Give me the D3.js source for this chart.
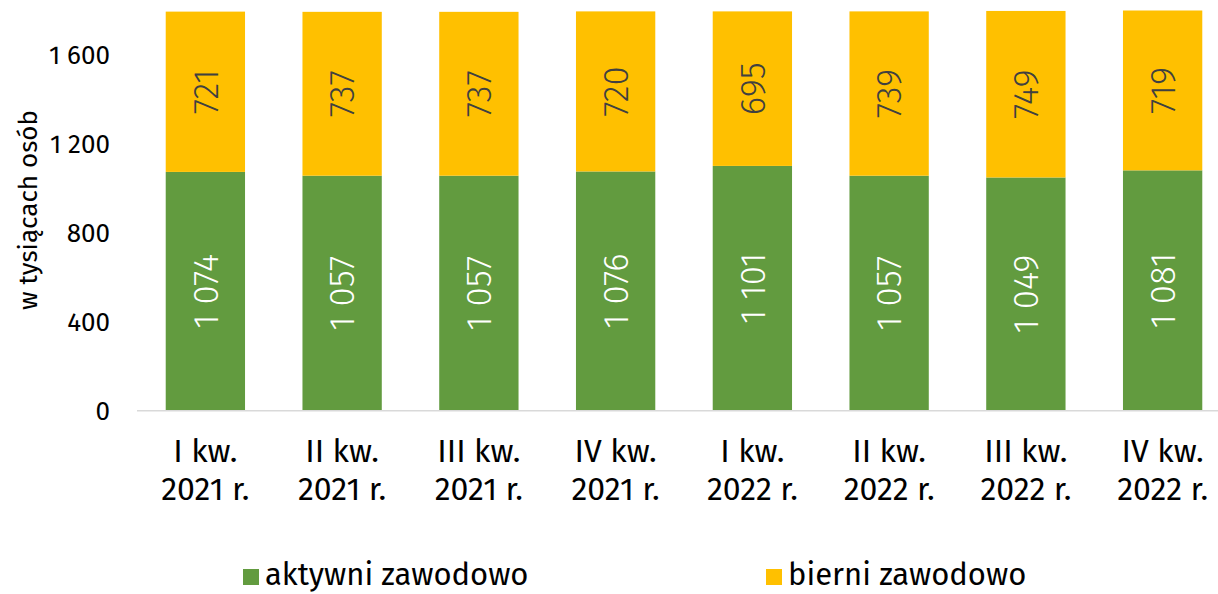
<!DOCTYPE html>
<html>
<head>
<meta charset="utf-8">
<script src="https://cdn.jsdelivr.net/npm/d3@7"></script>
<style>
  body { margin: 0; background: #fff; }
  svg text { font-family: "Fira Sans", "Open Sans", sans-serif; }
</style>
</head>
<body>
<div id="chart"></div>
<script>
(function() {

  let width  = 1218,
      height = 594;

  // data
  let quarters = ["I kw.", "II kw.", "III kw.", "IV kw.", "I kw.", "II kw.", "III kw.", "IV kw."];
  let years    = ["2021 r.", "2021 r.", "2021 r.", "2021 r.", "2022 r.", "2022 r.", "2022 r.", "2022 r."];
  let active   = [1074, 1057, 1057, 1076, 1101, 1057, 1049, 1081];
  let inactive = [721, 737, 737, 720, 695, 739, 749, 719];
  let yTicks   = [0, 400, 800, 1200, 1600];
  let seriesNames = ["aktywni zawodowo", "bierni zawodowo"];

  let colors = ["#629b3f", "#ffc000"];
  let labelColors = ["#ffffff", "#404040"];

  let data = quarters.map((q, i) => ({
    key: i, quarter: q, year: years[i], active: active[i], inactive: inactive[i]
  }));

  let svg = d3.select('#chart')
    .append ("svg")
    .attr   ("width", width)
    .attr   ("height", height);

  let x = d3.scaleBand()
    .domain       (data.map(d => d.key))
    .range        ([137, 1231])
    .paddingInner (0.42)
    .paddingOuter (0.21);

  let y = d3.scaleLinear()
    .domain ([0, 1800])
    .range  ([410.7, 10.5]);

  // thousands separated by a (non-breaking) space, Polish style
  let fmt = v => d3.format(",")(v).replace(/,/g, "\u00a0");

  // stack the two series
  let stack = d3.stack().keys(["active", "inactive"])(data);

  // y axis (labels only)
  let yAxis = svg.append("g")
    .attr("transform", "translate(118,0)")
    .call(d3.axisLeft(y).tickValues(yTicks).tickSize(0).tickPadding(8).tickFormat(v => fmt(v)));
  yAxis.select(".domain").remove();
  yAxis.selectAll("text")
    .style("font-size", "26px")
    .attr("fill", "#000");

  // y title
  svg.append("text")
    .attr("transform", "translate(37,210) rotate(-90)")
    .attr("text-anchor", "middle")
    .style("font-size", "26px")
    .attr("fill", "#000")
    .text("w tysiącach osób");

  // bars
  let layers = svg.selectAll(".layer")
    .data  (stack)
    .enter ().append("g")
    .attr  ("class", "layer")
    .attr  ("fill", (d, i) => colors[i]);

  layers.selectAll("rect")
    .data  (d => d)
    .enter ().append("rect")
    .attr  ("x", d => x(d.data.key))
    .attr  ("width", x.bandwidth())
    .attr  ("y", d => y(d[1]))
    .attr  ("height", d => y(d[0]) - y(d[1]));

  // value labels, rotated
  stack.forEach((layer, li) => {
    svg.append("g").selectAll("text")
      .data  (layer)
      .enter ().append("text")
      .attr  ("transform", d => {
        let cx = x(d.data.key) + x.bandwidth() / 2;
        let cy = (y(d[0]) + y(d[1])) / 2;
        return `translate(${cx},${cy}) rotate(-90)`;
      })
      .attr  ("text-anchor", "middle")
      .attr  ("dy", "0.35em")
      .style ("font-size", "35px")
      .style ("font-weight", 300)
      .attr  ("fill", labelColors[li])
      .text  (d => fmt(d[1] - d[0]));
  });

  // x axis line
  svg.append("line")
    .attr("x1", 137).attr("x2", 1218)
    .attr("y1", y(0)).attr("y2", y(0))
    .attr("stroke", "#d9d9d9")
    .attr("stroke-width", 1.5);

  // x labels, two lines
  let xl = svg.append("g").selectAll("text")
    .data  (data)
    .enter ().append("text")
    .attr  ("text-anchor", "middle")
    .style ("font-size", "32px")
    .attr  ("fill", "#000");
  xl.append("tspan")
    .attr("x", d => x(d.key) + x.bandwidth() / 2)
    .attr("y", 462)
    .text(d => d.quarter);
  xl.append("tspan")
    .attr("x", d => x(d.key) + x.bandwidth() / 2)
    .attr("y", 500)
    .text(d => d.year);

  // legend
  let legendX = [243, 766];
  let legend = svg.selectAll(".legend")
    .data  (seriesNames)
    .enter ().append("g")
    .attr  ("class", "legend")
    .attr  ("transform", (d, i) => `translate(${legendX[i]},569)`);
  legend.append("rect")
    .attr("width", 16).attr("height", 16)
    .attr("fill", (d, i) => colors[i]);
  legend.append("text")
    .attr("x", 22)
    .attr("y", 16)
    .style("font-size", "31px")
    .attr("fill", "#000")
    .text(d => d);

})();
</script>
</body>
</html>
